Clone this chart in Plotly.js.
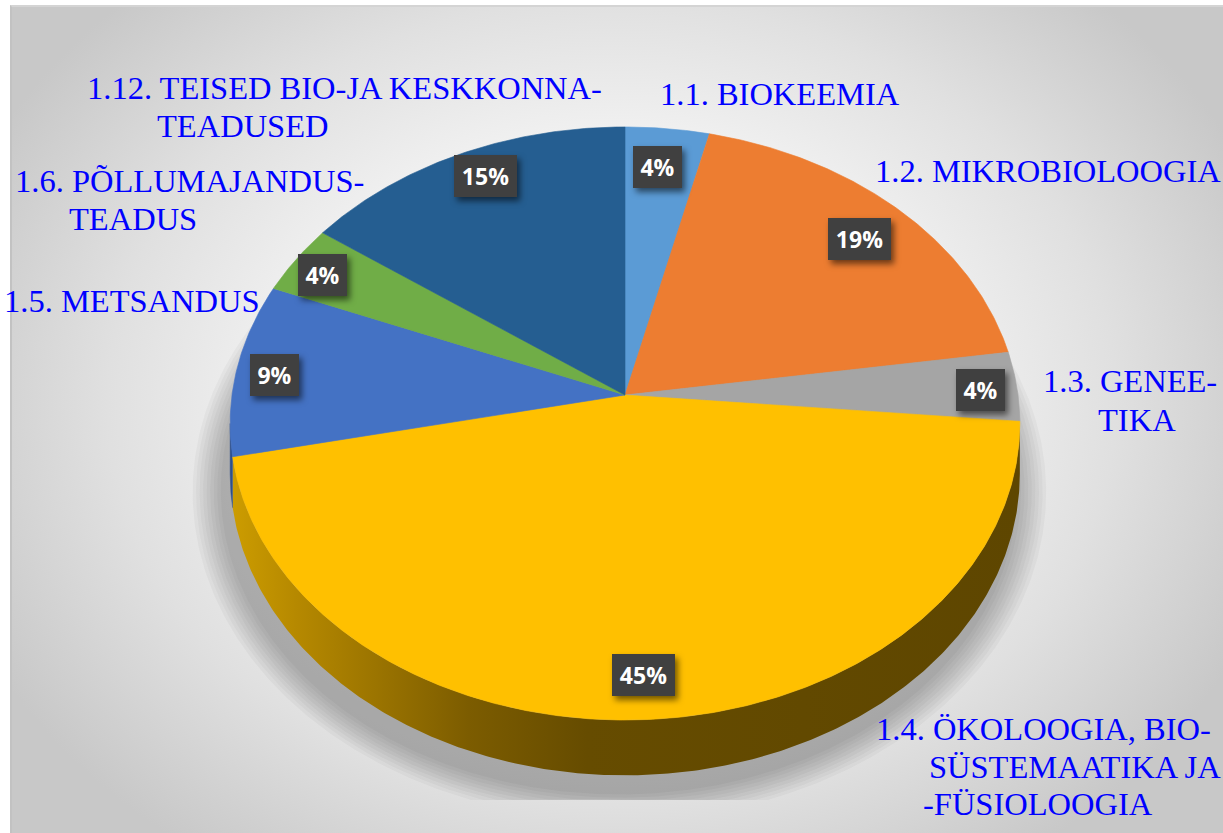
<!DOCTYPE html>
<html>
<head>
<meta charset="utf-8">
<script src="https://cdn.plot.ly/plotly-3.0.1.min.js"></script>
<style>
html,body{margin:0;padding:0;background:#ffffff;width:1223px;height:833px;overflow:hidden;}
#frame{position:absolute;left:10px;top:5px;width:1213px;height:828px;box-sizing:border-box;
  border-top:2px solid #d4d4d4;border-left:2px solid #c2c2c2;
  background:radial-gradient(ellipse 700px 560px at 600px 395px,#ffffff 0%,#f6f6f6 40%,#e0e0e0 72%,#c8c8c8 100%);}
#chart{position:absolute;left:0;top:0;width:1223px;height:833px;}
g.annotation rect.bg{filter:drop-shadow(3px 4px 3px rgba(0,0,0,0.55));}
</style>
</head>
<body>
<div id="frame"></div>
<div id="chart"></div>
<script>
// ---------------- DATA ----------------
const categories = [
  "1.1. BIOKEEMIA",
  "1.2. MIKROBIOLOOGIA",
  "1.3. GENEE-<br>TIKA",
  "1.4. ÖKOLOOGIA, BIO-<br>SÜSTEMAATIKA JA<br>-FÜSIOLOOGIA",
  "1.5. METSANDUS",
  "1.6. PÕLLUMAJANDUS-<br>TEADUS",
  "1.12. TEISED BIO-JA KESKKONNA-<br>TEADUSED"
];
const counts = [2, 10, 2, 24, 5, 2, 8];

// ---------------- STYLE / LAYOUT ----------------
const sliceColors = ["#5B9BD5", "#ED7D31", "#A5A5A5", "#FFC000", "#4472C4", "#70AD47", "#255E91"];
const wallColors  = ["#3a6f9e", "#a8551c", "#6e6e6e", null, "#2d4f8c", "#4a7a2e", "#173f63"];
// centre of each line of each category label (pixels)
const catLinePos = [
  [[780, 94]],
  [[1048, 171]],
  [[1130, 381], [1137, 420]],
  [[1043, 729], [1075, 767], [1038, 804]],
  [[132, 301]],
  [[189, 181], [133, 219]],
  [[344, 88], [243, 126]]
];
// centre of each percentage box (pixels)
const pctPos = [[657, 167], [859, 239], [980, 390], [643, 675], [274, 375], [322, 275], [485, 176]];

const CX = 625, CY = 395, AX = 393, BY = 293.8, K = 0.0961, DEPTH = 50;

function proj(tDeg, r) {
  const t = tDeg * Math.PI / 180;
  const u = r * Math.sin(t), v = r * Math.cos(t);
  const w = 1 + K * v;
  return [CX + AX * u / w, CY - BY * v / w];
}
function projBottom(tDeg) {
  const t = tDeg * Math.PI / 180;
  const w = 1 + K * Math.cos(t);
  const p = proj(tDeg, 1);
  return [p[0], p[1] + DEPTH / w];
}
function arc(a, b, f) {
  const pts = [];
  const n = Math.max(2, Math.ceil(Math.abs(b - a) / 0.5));
  for (let i = 0; i <= n; i++) pts.push(f(a + (b - a) * i / n));
  return pts;
}

const total = counts.reduce((s, v) => s + v, 0);
const starts = [], ends = [];
let acc = 0;
counts.forEach(v => { starts.push(acc / total * 360); acc += v; ends.push(acc / total * 360); });

const traces = [];

// ---- soft floor shadow ----
const SCX = 620, SCY = 450;
const rimB = arc(0, 360, projBottom);
for (let i = 0; i < 9; i++) {
  const e = 0.009 * (i + 1);
  const xs = [], ys = [];
  rimB.forEach(p => {
    const x = SCX + (p[0] - SCX) * (1 + e) - 6;
    let y = SCY + (p[1] - SCY) * (1 + e * 1.1) + 16;
    y = Math.min(800, y);
    xs.push(x); ys.push(y);
  });
  traces.push({type: "scatter", mode: "lines", x: xs, y: ys, fill: "toself",
    fillcolor: "rgba(0,0,0,0.032)", line: {width: 0}, hoverinfo: "skip"});
}

// ---- side wall ----
const tR = Math.acos(-K) * 180 / Math.PI, tL = 360 - tR;
counts.forEach((v, i) => {
  const a = Math.max(starts[i], tR), b = Math.min(ends[i], tL);
  if (b <= a) return;
  const top = arc(a, b, t => proj(t, 1));
  const bot = arc(b, a, projBottom);
  const pts = top.concat(bot);
  const tr = {type: "scatter", mode: "lines", x: pts.map(p => p[0]), y: pts.map(p => p[1]),
    fill: "toself", hoverinfo: "skip"};
  if (wallColors[i]) {
    tr.fillcolor = wallColors[i];
    tr.line = {width: 0.5, color: wallColors[i]};
  } else {
    tr.fillcolor = "#7a5a00";
    tr.fillgradient = {type: "horizontal",
      colorscale: [[0, "#cc9c00"], [0.08, "#b68900"], [0.3, "#7c5c00"], [0.45, "#664c00"], [1, "#5e4600"]]};
    tr.line = {width: 0};
  }
  traces.push(tr);
});

// ---- top surface slices ----
counts.forEach((v, i) => {
  const pts = [[CX, CY]].concat(arc(starts[i], ends[i], t => proj(t, 1)));
  pts.push([CX, CY]);
  traces.push({type: "scatter", mode: "lines", x: pts.map(p => p[0]), y: pts.map(p => p[1]),
    fill: "toself", fillcolor: sliceColors[i], line: {width: 0.6, color: sliceColors[i]},
    hoverinfo: "skip", name: categories[i]});
});

// ---- annotations ----
const annotations = [];
categories.forEach((c, i) => {
  const lines = c.split("<br>");
  lines.forEach((ln, j) => {
    const p = catLinePos[i][j];
    annotations.push({x: p[0], y: p[1], xref: "x", yref: "y", text: ln, showarrow: false,
      xanchor: "center", yanchor: "middle",
      font: {family: "Liberation Serif", size: 32.5, color: "#0000ff"}});
  });
});
counts.forEach((v, i) => {
  const txt = Math.round(v / total * 100) + "%";
  const p = pctPos[i];
  annotations.push({x: p[0], y: p[1], xref: "x", yref: "y", text: txt, showarrow: false,
    xanchor: "center", yanchor: "middle",
    width: txt.length > 2 ? 59 : 45, height: 38, borderpad: 2, borderwidth: 0,
    bgcolor: "#404040",
    font: {family: "Open Sans", size: 23, color: "#ffffff", weight: "bold"}});
});

const layout = {
  width: 1223, height: 833,
  margin: {l: 0, r: 0, t: 0, b: 0},
  paper_bgcolor: "rgba(0,0,0,0)", plot_bgcolor: "rgba(0,0,0,0)",
  showlegend: false,
  xaxis: {range: [0, 1223], visible: false, fixedrange: true},
  yaxis: {range: [833, 0], visible: false, fixedrange: true},
  annotations: annotations
};
Plotly.newPlot("chart", traces, layout, {displayModeBar: false, staticPlot: true});
</script>
</body>
</html>
